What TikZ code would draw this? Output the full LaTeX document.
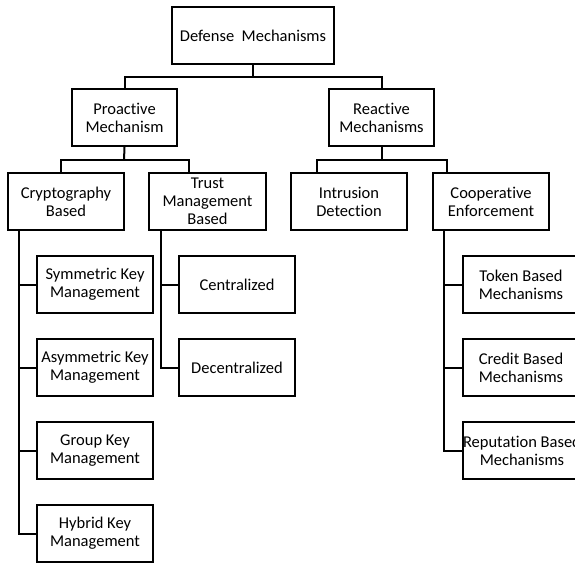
\documentclass[tikz,border=0pt]{standalone}
\usepackage{fontspec}
\setmainfont{Carlito}[Ligatures={NoCommon,NoRequired,NoContextual}]
\usetikzlibrary{calc}
\begin{document}
\begin{tikzpicture}[x=1pt,y=-1pt,
  box/.style={draw,line width=2pt,minimum width=116pt,minimum height=57pt,inner sep=0pt,align=center,
    font=\fontsize{16.5}{17.8}\selectfont,anchor=north west},
  link/.style={line width=2pt}]
\clip (0,0) rectangle (575,563);
\node[box,minimum width=162pt] (def) at (171,6) {Defense\ \ Mechanisms};
\node[box,minimum width=105pt] (pro) at (71,88) {Proactive\\Mechanism};
\node[box,minimum width=105pt] (rea) at (328,88) {Reactive\\Mechanisms};
\node[box] (cry) at (7,172) {Cryptography\\Based};
\node[box,minimum width=117pt] (tru) at (148,172) {Trust\\Management\\Based};
\node[box] (int) at (290,172) {Intrusion\\Detection};
\node[box] (coo) at (432,172) {Cooperative\\Enforcement};
\node[box] (sym) at (36,255) {Symmetric Key\\Management};
\node[box] (asy) at (36,338) {Asymmetric Key\\Management};
\node[box] (grp) at (36,421) {Group Key\\Management};
\node[box] (hyb) at (36,504) {Hybrid Key\\Management};
\node[box] (cen) at (178,255) {Centralized};
\node[box] (dec) at (178,338) {Decentralized};
\node[box] (tok) at (462,255) {Token Based\\Mechanisms};
\node[box] (cre) at (462,338) {Credit Based\\Mechanisms};
\node[box] (rep) at (462,421) {Reputation Based\\Mechanisms};
% top level
\coordinate (j0) at (253,77);
\draw[link] (def.south) -- (j0);
\draw[link] (pro.north) |- (j0) -| (rea.north);
% proactive
\coordinate (j1) at (124,160);
\draw[link] (pro.south) -- (j1);
\draw[link] ([xshift=-5.5pt]cry.north) |- (j1) -| ([xshift=-18.5pt]tru.north);
% reactive
\coordinate (j2) at (381.5,160);
\draw[link] (rea.south) -- (j2);
\draw[link] ([xshift=-32pt]int.north) |- (j2) -| ([xshift=-44pt]coo.north);
% cryptography children
\coordinate (c0) at ([xshift=12pt]cry.south west);
\draw[link] (c0) |- (hyb.west);
\draw[link] (c0) |- (sym.west);
\draw[link] (c0) |- (asy.west);
\draw[link] (c0) |- (grp.west);
% trust children
\coordinate (t0) at ([xshift=13pt]tru.south west);
\draw[link] (t0) |- (dec.west);
\draw[link] (t0) |- (cen.west);
% cooperative children
\coordinate (k0) at ([xshift=12pt]coo.south west);
\draw[link] (k0) |- (rep.west);
\draw[link] (k0) |- (tok.west);
\draw[link] (k0) |- (cre.west);
\end{tikzpicture}
\end{document}
